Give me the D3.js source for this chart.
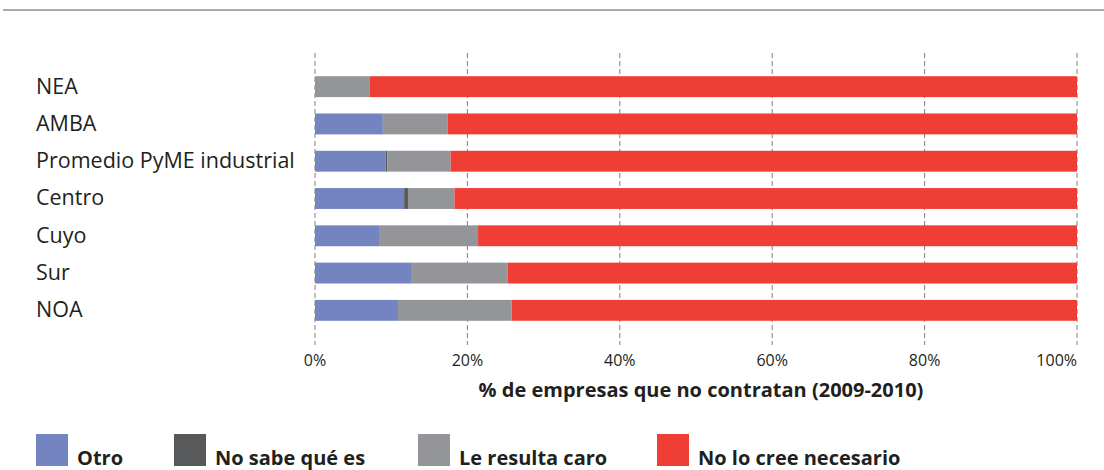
<!DOCTYPE html>
<meta charset="utf-8">
<script src="https://d3js.org/d3.v7.min.js"></script>
<style>
  body { margin: 0; background: #fff; }
  text { font-family: "Open Sans", "Noto Sans", sans-serif; fill: #231f20; }
</style>
<svg id="chart" width="1104" height="470"></svg>
<script>
// regions, top to bottom
var categories = ["NEA", "AMBA", "Promedio PyME industrial", "Centro", "Cuyo", "Sur", "NOA"];
// % of firms by reason
var otro        = [0,    8.9,  9.3,  11.7, 8.4,  12.6, 10.9];
var noSabe      = [0,    0,    0.2,  0.5,  0,    0,    0];
var caro        = [7.2,  8.5,  8.3,  6.1,  13.0, 12.7, 14.9];
var noNecesario = [92.8, 82.6, 82.2, 81.7, 78.6, 74.7, 74.2];

var seriesNames = ["Otro", "No sabe qué es", "Le resulta caro", "No lo cree necesario"];
var ticks = [0, 20, 40, 60, 80, 100];

var colors = ["#7484c1", "#58595b", "#939598", "#ef3e36"];

var svg = d3.select("#chart");

// top rule
svg.append("line")
  .attr("x1", 3).attr("x2", 1104)
  .attr("y1", 10).attr("y2", 10)
  .style("stroke", "#aaa")
  .style("stroke-width", 2);

var x = d3.scaleLinear().domain([0, 100]).range([315, 1077]);
var y = d3.scaleBand().domain(categories).range([68, 329])
  .paddingInner(0.44).paddingOuter(0.22);

// build table for d3.stack
var rows = categories.map(function(c, i) {
  return { cat: c, s0: otro[i], s1: noSabe[i], s2: caro[i], s3: noNecesario[i] };
});
var stack = d3.stack().keys(["s0", "s1", "s2", "s3"]);
var layers = stack(rows);

// dashed grid
svg.append("g")
  .selectAll("line")
  .data(ticks)
  .enter()
  .append("line")
    .attr("x1", function(d) { return x(d); })
    .attr("x2", function(d) { return x(d); })
    .attr("y1", 53).attr("y2", 345)
    .style("stroke", "#808080")
    .style("stroke-width", 1)
    .style("stroke-dasharray", "5,3");

// bars
svg.append("g")
  .selectAll("g")
  .data(layers)
  .enter()
  .append("g")
    .attr("fill", function(d, i) { return colors[i]; })
  .selectAll("rect")
  .data(function(d) { return d; })
  .enter()
  .append("rect")
    .attr("x", function(d) { return x(d[0]); })
    .attr("width", function(d) { return x(d[1]) - x(d[0]); })
    .attr("y", function(d) { return y(d.data.cat); })
    .attr("height", y.bandwidth());

// category labels
svg.append("g")
  .selectAll("text")
  .data(categories)
  .enter()
  .append("text")
    .attr("x", 36)
    .attr("y", function(d) { return y(d) + y.bandwidth() / 2; })
    .attr("dy", "0.32em")
    .style("font-size", "21.5px")
    .text(function(d) { return d; });

// tick labels (last one sits flush left of the 100% line)
svg.append("g")
  .selectAll("text")
  .data(ticks)
  .enter()
  .append("text")
    .attr("x", function(d) { return x(d); })
    .attr("y", 366)
    .attr("text-anchor", function(d, i) { return i == ticks.length - 1 ? "end" : "middle"; })
    .style("font-size", "16px")
    .text(function(d) { return d + "%"; });

// axis title
svg.append("text")
  .attr("x", 701)
  .attr("y", 397)
  .attr("text-anchor", "middle")
  .style("font-size", "20px")
  .style("font-weight", "bold")
  .text("% de empresas que no contratan (2009-2010)");

// legend
var legX = [36, 174, 418, 657];
var leg = svg.append("g")
  .selectAll("g")
  .data(seriesNames)
  .enter()
  .append("g")
    .attr("transform", function(d, i) { return "translate(" + legX[i] + ",434)"; });

leg.append("rect")
  .attr("width", 32).attr("height", 32)
  .attr("fill", function(d, i) { return colors[i]; });

leg.append("text")
  .attr("x", 41)
  .attr("y", 31)
  .style("font-size", "20px")
  .style("font-weight", "bold")
  .text(function(d) { return d; });
</script>
